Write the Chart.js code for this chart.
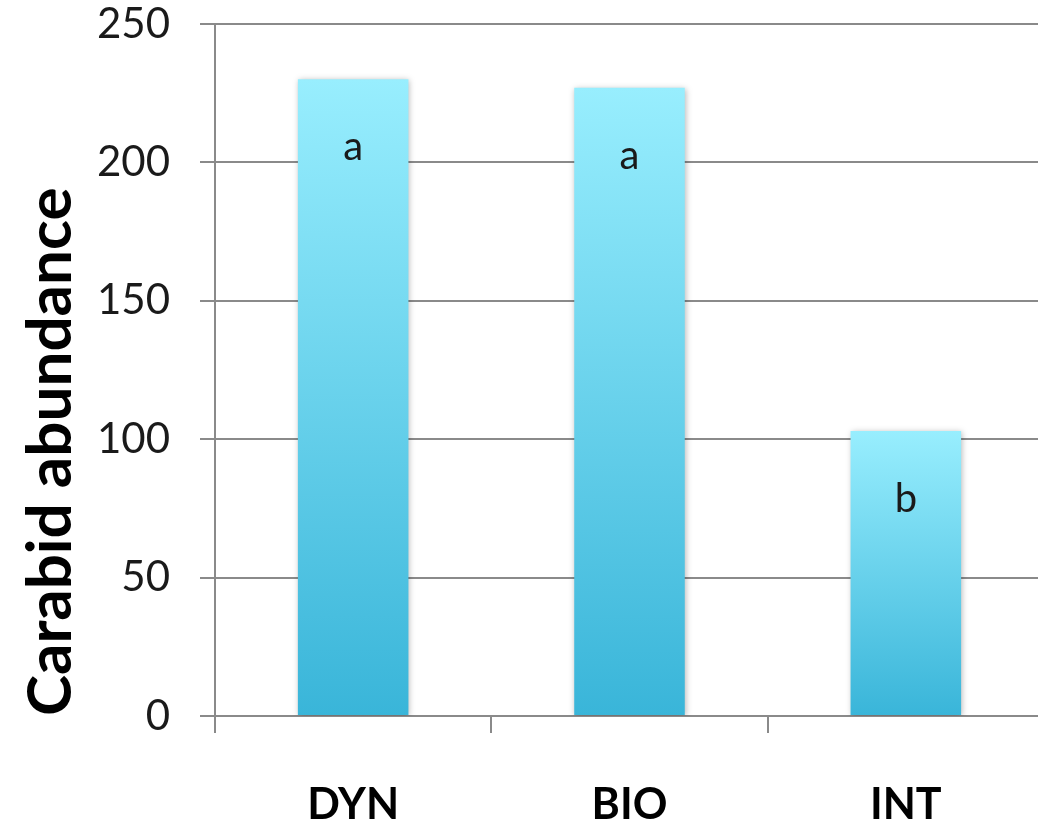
<!DOCTYPE html>
<html>
<head>
<meta charset="utf-8">
<script src="https://cdn.jsdelivr.net/npm/chart.js@4/dist/chart.umd.min.js"></script>
<style>
  html, body { margin: 0; padding: 0; background: #fff; overflow: hidden; }
  #wrap { position: relative; width: 1044px; height: 820px; }
</style>
</head>
<body>
<div id="wrap"><canvas id="chart"></canvas></div>
<script>
// Mean carabid abundance per management system
const categories = ['DYN', 'BIO', 'INT'];
const abundance = [230, 227, 103];
const groupLetters = ['a', 'a', 'b'];
const yTicks = [0, 50, 100, 150, 200, 250];

const GRID = '#8a8a8a';

// Per-bar vertical gradient, light cyan at the top to deeper blue at the base
function barFill(ctx) {
  const chart = ctx.chart;
  const y = chart.scales.y;
  if (!chart.chartArea || !y) return '#6fd3ee';
  const top = y.getPixelForValue(ctx.raw);
  const base = y.getPixelForValue(0);
  const g = chart.ctx.createLinearGradient(0, top, 0, base);
  g.addColorStop(0, '#98eefe');
  g.addColorStop(1, '#39b5d9');
  return g;
}

// Soft drop shadow behind the bars
const barShadow = {
  id: 'barShadow',
  beforeDatasetDraw(chart) {
    const c = chart.ctx;
    c.save();
    c.shadowColor = 'rgba(0,0,0,0.28)';
    c.shadowBlur = 6;
    c.shadowOffsetX = 1;
    c.shadowOffsetY = 1;
  },
  afterDatasetDraw(chart) {
    chart.ctx.restore();
  }
};

// Significance letters inside the top of each bar
const letterLabels = {
  id: 'letterLabels',
  afterDatasetsDraw(chart) {
    const c = chart.ctx;
    const meta = chart.getDatasetMeta(0);
    c.save();
    c.font = '40px Lato, "Open Sans", sans-serif';
    c.fillStyle = '#1a1a1a';
    c.textAlign = 'center';
    c.textBaseline = 'middle';
    meta.data.forEach((bar, i) => {
      c.fillText(groupLetters[i], bar.x, bar.y + 68);
    });
    c.restore();
  }
};

new Chart(document.getElementById('chart'), {
  type: 'bar',
  data: {
    labels: categories,
    datasets: [{
      data: abundance,
      backgroundColor: barFill,
      borderWidth: 0,
      barPercentage: 0.8,
      categoryPercentage: 0.5
    }]
  },
  options: {
    responsive: true,
    maintainAspectRatio: false,
    animation: false,
    events: [],
    layout: { padding: { top: 24, left: 0, right: 0, bottom: 0 } },
    plugins: { legend: { display: false }, tooltip: { enabled: false } },
    scales: {
      x: {
        grid: {
          offset: true,
          drawOnChartArea: false,
          drawTicks: true,
          tickLength: 17,
          color: GRID,
          lineWidth: 2
        },
        border: { display: false },
        ticks: {
          padding: 46,
          color: '#000',
          font: { family: 'Lato, "Open Sans", sans-serif', size: 43, weight: 'bold' }
        },
        afterFit(scale) { scale.height = 104; }
      },
      y: {
        min: 0,
        max: 250,
        afterBuildTicks(scale) { scale.ticks = yTicks.map(v => ({ value: v })); },
        grid: {
          color: GRID,
          lineWidth: 2,
          drawTicks: true,
          tickLength: 15
        },
        border: { display: true, color: GRID, width: 2 },
        ticks: {
          padding: 30,
          color: '#1a1a1a',
          font: { family: 'Lato, "Open Sans", sans-serif', size: 42 }
        },
        title: {
          display: true,
          text: 'Carabid abundance',
          align: 'start',
          color: '#000',
          padding: { top: 14, bottom: 0 },
          font: { family: 'Lato, "Open Sans", sans-serif', size: 62, weight: 'bold' }
        },
        afterFit(scale) {
          scale.width = 215;
          scale.paddingTop = 0;
          scale.paddingBottom = 0;
        }
      }
    }
  },
  plugins: [barShadow, letterLabels]
});
</script>
</body>
</html>
